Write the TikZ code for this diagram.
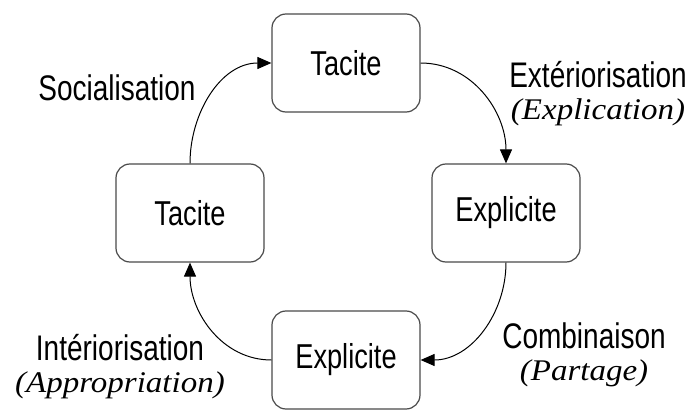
\documentclass[tikz,border=0pt]{standalone}
\usepackage{fontspec}
\setmainfont{Liberation Serif}
\setsansfont{Liberation Sans}
\usetikzlibrary{arrows.meta}
\definecolor{boxline}{HTML}{4A4A4A}
\newcommand{\haut}[1]{\scalebox{1}[1.27]{#1}}
\newcommand{\sous}[1]{{\rmfamily\itshape\fontsize{15}{16}\selectfont\scalebox{1.1}[1]{(#1)}}}

\begin{document}
\begin{tikzpicture}[
      x=0.5pt, y=-0.5pt,
      box/.style={draw=boxline, rounded corners=7pt, minimum width=74pt, minimum height=49pt, align=center, line width=0.6pt, font=\sffamily\fontsize{13.6}{16}\selectfont},
      arrow/.style={-{Triangle[length=7pt, width=6pt]}, line width=0.5pt},
      lbl/.style={align=center, inner sep=0pt, font=\sffamily\fontsize{14}{16}\selectfont}
    ]
    \useasboundingbox (0,0) rectangle (692,412);
    \node[box] (tacitehaut) at (346,63) {\haut{Tacite}};
    \node[box] (tacitegauche) at (190,213) {\haut{Tacite}};
    \node[box] (explidroite) at (506,213) {\haut{Explicite}};
    \node[box] (explibas) at (346,360) {\haut{Explicite}};

    \draw[arrow] (tacitegauche.north) to[out=90, in=180] (tacitehaut.west);
    \draw[arrow] (tacitehaut.east) to[out=0, in=90] (explidroite.north);
    \draw[arrow] (explidroite.south) to[out=-90, in=0] (explibas.east);
    \draw[arrow] (explibas.west) to[out=180, in=-90] (tacitegauche.south);

    \node[lbl] (social) at (117,88) {\haut{Socialisation}};
    \node[lbl] (exter) at (598,94) {\haut{Extériorisation}\\\sous{Explication}};
    \node[lbl] (combi) at (584,355) {\haut{Combinaison}\\\sous{Partage}};
    \node[lbl] (inter) at (120,367) {\haut{Intériorisation}\\\sous{Appropriation}};
  \end{tikzpicture}
\end{document}
